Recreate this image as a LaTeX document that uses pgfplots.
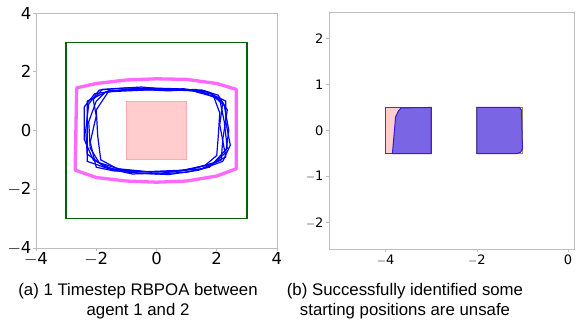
\documentclass[border=0pt]{standalone}
\usepackage{pgfplots}
\pgfplotsset{compat=1.18}
\usepackage{fontspec}
\setmainfont{Liberation Sans}
\newfontfamily\dejavu{DejaVu Sans}
\definecolor{framegray}{RGB}{190,190,190}
\definecolor{dgreen}{RGB}{0,100,0}
\definecolor{pinkfill}{RGB}{255,205,205}
\definecolor{pinkedge}{RGB}{255,170,170}
\definecolor{violetline}{RGB}{255,105,255}
\definecolor{redsq}{RGB}{175,30,40}
\definecolor{olivesq}{RGB}{165,150,60}
\definecolor{slate}{RGB}{122,102,228}
\definecolor{slateedge}{RGB}{60,25,215}
\begin{document}
\begin{tikzpicture}
\useasboundingbox (0pt,0pt) rectangle (577pt,325pt);
\pgfplotsset{mystyle/.style={
  scale only axis, anchor=south west,
  axis line style={framegray, line width=0.8pt},
  tick style={framegray, line width=0.6pt},
  major tick length=3pt,
  tick align=outside,
  xtick pos=bottom, ytick pos=left,
  /pgf/number format/assume math mode=true,
  clip=true,
}}
% left
\begin{axis}[mystyle, at={(36pt,77pt)}, width=241pt, height=235pt,
  xmin=-4, xmax=4, ymin=-4, ymax=4,
  xtick={-4,-2,0,2,4}, ytick={-4,-2,0,2,4},
  xticklabels={$-$4,$-$2,0,2,4}, yticklabels={$-$4,$-$2,0,2,4},
  tick label style={font=\dejavu\fontsize{16.5}{16.5}\selectfont},
  xticklabel style={yshift=2pt}, yticklabel style={xshift=2pt}]
\addplot[draw=dgreen, line width=1.3pt] coordinates {(-3,-3) (3,-3) (3,3) (-3,3)} -- cycle;
\addplot[fill=pinkfill, draw=pinkedge, line width=1pt] coordinates {(-1,-1) (1,-1) (1,1) (-1,1)} -- cycle;
\addplot[draw=violetline, line width=3.3pt, line join=round] coordinates {
(-2.65,1.45) (-2,1.6) (-1,1.72) (0,1.76) (1,1.74) (2,1.6) (2.65,1.4) (2.65,-1.3) (2,-1.55) (1,-1.72) (0,-1.76) (-1,-1.72) (-2,-1.6) (-2.7,-1.35)} -- cycle;
\addplot[blue, line width=1.2pt] coordinates {(-1.9,1.38) (-1,1.45) (0,1.42) (1,1.38) (1.8,1.25) (2.25,0.85) (2.4,0) (2.3,-0.75) (1.75,-1.25) (1,-1.42) (0,-1.48) (-1,-1.42) (-1.75,-1.22) (-2.3,-0.8) (-2.35,0) (-2.25,0.9) (-1.9,1.38)};
\addplot[blue, line width=1.2pt] coordinates {(-1.7,1.3) (-0.8,1.42) (0.2,1.4) (1.2,1.35) (1.9,1.15) (2.1,0.6) (2.05,-0.2) (2.0,-0.85) (1.6,-1.2) (0.8,-1.38) (-0.2,-1.42) (-1.1,-1.35) (-1.9,-1.1) (-2.2,-0.6) (-2.25,0.3) (-2.0,1.0) (-1.7,1.3)};
\addplot[blue, line width=1.2pt] coordinates {(-2.05,1.25) (-1.2,1.38) (-0.3,1.45) (0.7,1.42) (1.6,1.35) (2.3,1.0) (2.3,0.3) (2.45,-0.5) (2.2,-1.05) (1.4,-1.35) (0.4,-1.5) (-0.6,-1.45) (-1.5,-1.3) (-2.1,-1.0) (-2.4,-0.3) (-2.4,0.8) (-2.05,1.25)};
\addplot[blue, line width=1.2pt] coordinates {(-1.8,1.4) (-0.5,1.48) (0.5,1.38) (1.5,1.38) (2.05,1.2) (2.35,0.7) (2.2,-0.3) (2.15,-1.0) (1.5,-1.3) (0.5,-1.4) (-0.5,-1.4) (-1.4,-1.38) (-2.0,-1.25) (-2.2,-0.4) (-2.0,0.5) (-2.1,1.05) (-1.8,1.4)};
\addplot[blue, line width=1.2pt] coordinates {(-2.3,1.0) (-1.6,1.35) (-0.6,1.4) (0.4,1.35) (1.3,1.4) (2.1,1.05) (2.25,0.3) (2.35,-0.6) (1.9,-1.1) (1.2,-1.3) (0.2,-1.45) (-0.8,-1.48) (-1.6,-1.3) (-2.3,-1.05) (-2.3,-0.2) (-2.3,1.0)};
\addplot[blue, line width=1.2pt] coordinates {(-1.6,1.32) (-0.3,1.38) (0.9,1.42) (1.75,1.3) (2.2,0.95) (2.1,0.2) (2.3,-0.9) (1.8,-1.15) (0.9,-1.35) (-0.3,-1.4) (-1.3,-1.3) (-1.85,-1.0) (-1.95,-0.2) (-2.0,0.7) (-1.6,1.32)};
\end{axis}
% right
\begin{axis}[mystyle, at={(329pt,76pt)}, width=245pt, height=237pt,
  xmin=-5.24, xmax=0.13, ymin=-2.57, ymax=2.57,
  xtick={-4,-2,0}, ytick={-2,-1,0,1,2},
  xticklabels={$-$4,$-$2,0}, yticklabels={$-$2,$-$1,0,1,2},
  tick label style={font=\dejavu\fontsize{13}{13}\selectfont},
  xticklabel style={yshift=1pt}, yticklabel style={xshift=1pt}]
\addplot[fill=pinkfill, draw=redsq, line width=1pt] coordinates {(-4,-0.5) (-3,-0.5) (-3,0.5) (-4,0.5)} -- cycle;
\addplot[draw=olivesq, line width=1.2pt] coordinates {(-2,-0.5) (-1,-0.5) (-1,0.5) (-2,0.5)} -- cycle;
\addplot[fill=slate, draw=slateedge, line width=1pt] coordinates {(-3.85,-0.5) (-3.78,0.3) (-3.72,0.42) (-3.66,0.49) (-3.0,0.5) (-3.0,-0.5)} -- cycle;
\addplot[fill=slate, draw=slateedge, line width=1pt] coordinates {(-2,-0.5) (-2,0.5) (-1.06,0.5) (-1.02,0.44) (-1.0,-0.4) (-1.04,-0.47) (-1.12,-0.5)} -- cycle;
\end{axis}
\node[align=center, font=\fontsize{16.8}{20}\selectfont] at (138pt,24pt) {(a) 1 Timestep RBPOA between\\agent 1 and 2};
\node[align=center, font=\fontsize{16.8}{20}\selectfont] at (405pt,24pt) {(b) Successfully identified some\\starting positions are unsafe};
\end{tikzpicture}
\end{document}
